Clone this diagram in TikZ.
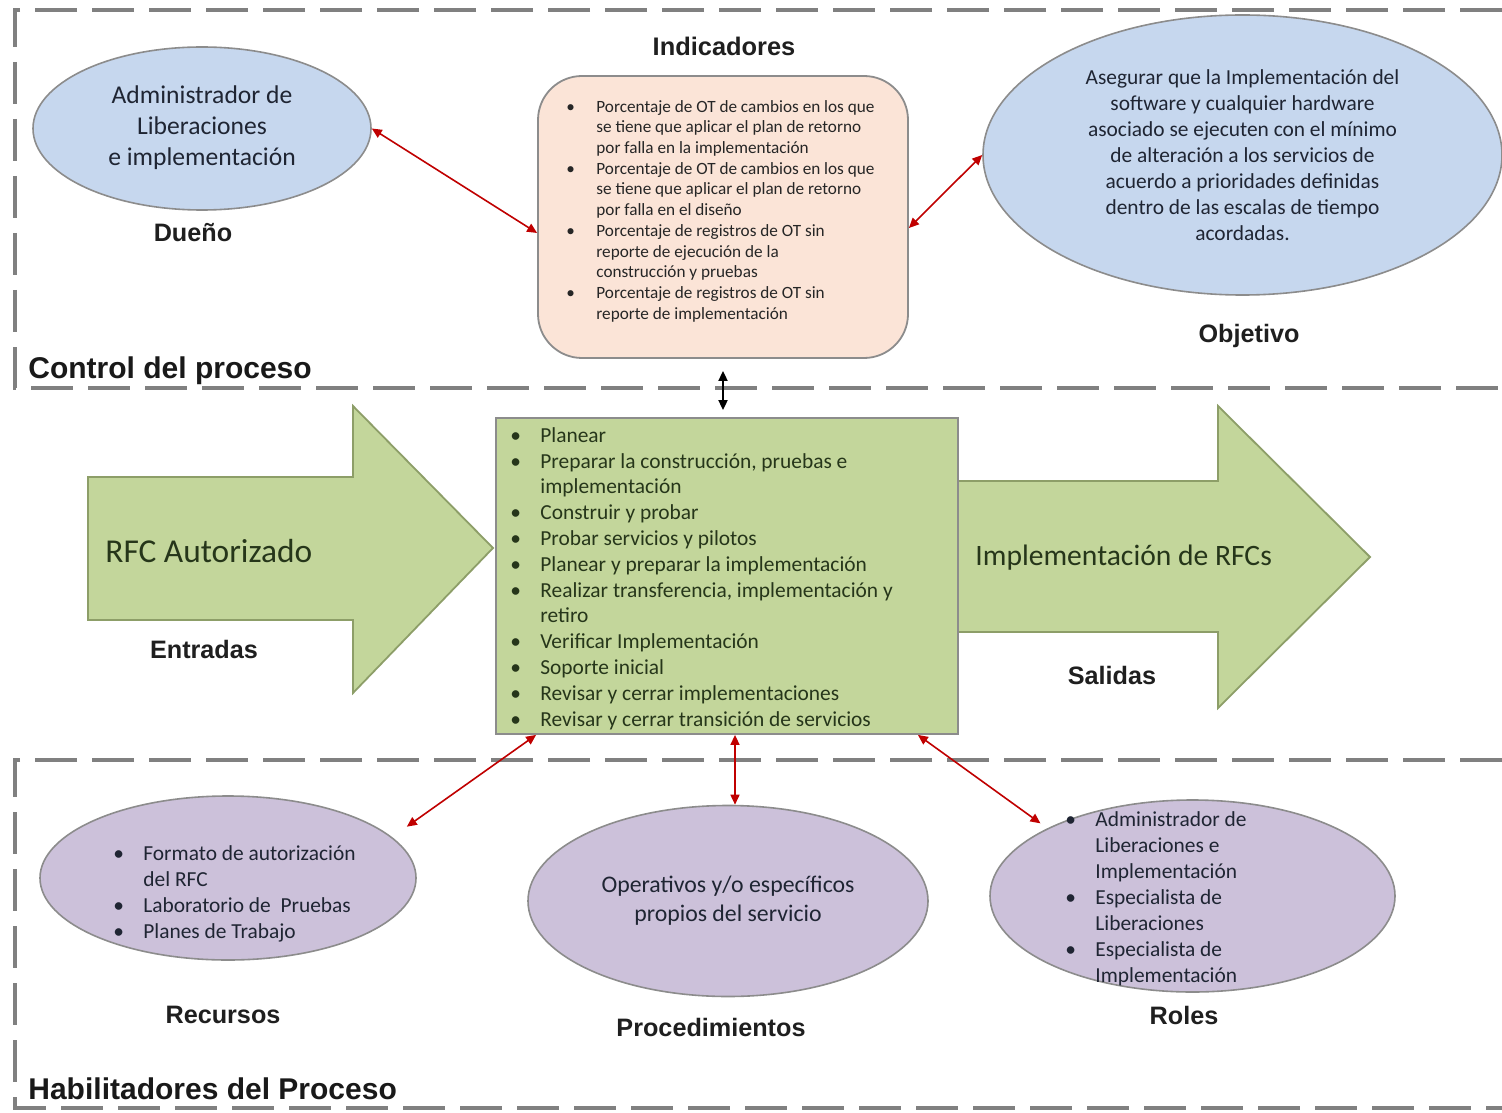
\documentclass[tikz,border=0pt]{standalone}
\usepackage{fontspec}
\setmainfont{Carlito}
\newfontfamily\labfont{Liberation Sans}
\usetikzlibrary{arrows.meta,shapes.geometric}
\definecolor{dashgray}{HTML}{808080}
\definecolor{boxgreen}{HTML}{C3D69B}
\definecolor{greenedge}{HTML}{8D9E68}
\definecolor{peach}{HTML}{FBE4D7}
\definecolor{lblue}{HTML}{C6D7EE}
\definecolor{lpurple}{HTML}{CCC1DA}
\definecolor{edgegray}{HTML}{8C8C8C}
\definecolor{darkred}{HTML}{C00000}
\definecolor{txtdark}{HTML}{1F2533}
\definecolor{txtgreen}{HTML}{26361A}
\newcommand\bl{\makebox[15pt][l]{\textbullet}}
\newcommand\contl{\hspace*{15pt}}
\begin{document}
\begin{tikzpicture}[x=0.5pt,y=-0.5pt,
  frame/.style={draw=dashgray, line width=2pt, dash pattern=on 21pt off 7.5pt},
  lbl/.style={font={\labfont\bfseries\fontsize{12.6}{15}\selectfont}, text=black!88, inner sep=0},
  sect/.style={font={\labfont\bfseries\fontsize{15}{18}\selectfont}, text=black!90, inner sep=0, anchor=west},
  oval/.style={ellipse, draw=edgegray, line width=0.8pt, inner sep=0, align=center, text=txtdark},
  listtxt/.style={inner sep=0, anchor=west, align=left},
  bigarrow/.style={fill=boxgreen, draw=greenedge, line width=0.9pt, line join=miter},
  rar/.style={{Triangle[length=5pt,width=4.5pt]}-{Triangle[length=5pt,width=4.5pt]}, draw=darkred, line width=0.8pt},
  bar/.style={{Triangle[length=5pt,width=4.5pt]}-{Triangle[length=5pt,width=4.5pt]}, draw=black, line width=0.9pt}]
\useasboundingbox (0,0) rectangle (1502,1112);
\fill[white] (0,0) rectangle (1502,1112);

% section frames
\draw[frame] (1502,10) -- (15,10) -- (15,388) -- (1502,388);
\draw[frame] (1502,760) -- (15,760) -- (15,1108) -- (1502,1108);

% section titles
\node[sect] (tctl) at (28,371) {Control del proceso};
\node[sect] (thab) at (28,1089) {Habilitadores del Proceso};

% big arrows
\path[bigarrow] (88,477) -- (353,477) -- (353,406) -- (493,548) -- (353,693) -- (353,620) -- (88,620) -- cycle;
\path[bigarrow] (958,481) -- (1218,481) -- (1218,406) -- (1370,557) -- (1218,708) -- (1218,632) -- (958,632) -- cycle;
\node[inner sep=0, anchor=west, text=txtgreen, font=\fontsize{16.7}{20}\selectfont] (rfc) at (105,551) {RFC Autorizado};
\node[inner sep=0, anchor=west, text=txtgreen, font=\fontsize{14.8}{18}\selectfont] (impl) at (975,558) {Implementación de RFCs};
\node[lbl] (lent) at (204,649) {Entradas};
\node[lbl] (lsal) at (1112,675) {Salidas};

% central process box
\node[draw=edgegray, fill=boxgreen, line width=0.9pt, minimum width=231pt, minimum height=158pt, inner sep=0] (proc) at (727,576) {};
\node[listtxt, text=txtgreen, font=\fontsize{10.7}{12.9}\selectfont] (proctxt) at (510,579) {%
\begin{tabular}{@{}l@{}}
\bl Planear\\
\bl Preparar la construcción, pruebas e\\
\contl implementación\\
\bl Construir y probar\\
\bl Probar servicios y pilotos\\
\bl Planear y preparar la implementación\\
\bl Realizar transferencia, implementación y\\
\contl retiro\\
\bl Verificar Implementación\\
\bl Soporte inicial\\
\bl Revisar y cerrar implementaciones\\
\bl Revisar y cerrar transición de servicios
\end{tabular}};

% indicators
\node[lbl, font={\labfont\bfseries\fontsize{12.7}{15}\selectfont}] (lind) at (724,46) {Indicadores};
\node[draw=edgegray, fill=peach, line width=0.9pt, rounded corners=22pt, minimum width=185pt, minimum height=141pt, inner sep=0] (ind) at (723,217) {};
\node[listtxt, text=black!85, font=\fontsize{8.6}{10.35}\selectfont] (indtxt) at (566,211.5) {%
\begin{tabular}{@{}l@{}}
\bl Porcentaje de OT de cambios en los que\\
\contl se tiene que aplicar el plan de retorno\\
\contl por falla en la implementación\\
\bl Porcentaje de OT de cambios en los que\\
\contl se tiene que aplicar el plan de retorno\\
\contl por falla en el diseño\\
\bl Porcentaje de registros de OT sin\\
\contl reporte de ejecución de la\\
\contl construcción y pruebas\\
\bl Porcentaje de registros de OT sin\\
\contl reporte de implementación
\end{tabular}};

% owner
\node[oval, fill=lblue, minimum width=169pt, minimum height=81.5pt, font=\fontsize{12.8}{15.5}\selectfont] (due) at (202,128.5) {\raisebox{-1.5pt}{\begin{tabular}{@{}c@{}}Administrador de\\Liberaciones\\e implementación\end{tabular}}};
\node[lbl] (ldue) at (193,233) {Dueño};

% objective
\node[oval, fill=lblue, minimum width=259.5pt, minimum height=140pt, font=\fontsize{10.7}{13}\selectfont] (obj) at (1242.5,155) {Asegurar que la Implementación del\\software y cualquier hardware\\asociado se ejecuten con el mínimo\\de alteración a los servicios de\\acuerdo a prioridades definidas\\dentro de las escalas de tiempo\\acordadas.};
\node[lbl] (lobj) at (1249,336) {Objetivo};

% enablers
\node[oval, fill=lpurple, minimum width=188pt, minimum height=82pt] (rec) at (228,878) {};
\node[listtxt, text=txtdark, font=\fontsize{10.7}{13}\selectfont] (rectxt) at (113,894) {%
\begin{tabular}{@{}l@{}}
\bl Formato de autorización\\
\contl del RFC\\
\bl Laboratorio de\ \ Pruebas\\
\bl Planes de Trabajo
\end{tabular}};
\node[lbl] (lrec) at (223,1015) {Recursos};

\node[oval, fill=lpurple, minimum width=200pt, minimum height=95.5pt, font=\fontsize{11.9}{14.5}\selectfont] (pro) at (728,901) {Operativos y/o específicos\\propios del servicio};
\node[lbl] (lpro) at (711,1027) {Procedimientos};

\node[oval, fill=lpurple, minimum width=202.5pt, minimum height=96pt] (rol) at (1192.5,896) {};
\node[listtxt, text=txtdark, font=\fontsize{10.7}{13}\selectfont] (roltxt) at (1065,899) {%
\begin{tabular}{@{}l@{}}
\bl Administrador de\\
\contl Liberaciones e\\
\contl Implementación\\
\bl Especialista de\\
\contl Liberaciones\\
\bl Especialista de\\
\contl Implementación
\end{tabular}};
\node[lbl] (lrol) at (1184,1015) {Roles};

% connectors
\draw[rar] (due.east) -- ([yshift=-8pt]ind.west);
\draw[rar] ([yshift=-5.5pt]ind.east) -- (obj.west);
\draw[bar, shorten <=6pt, shorten >=3.5pt] (ind.south) -- (ind.south |- proc.north);
\draw[rar, shorten >=9pt] ([xshift=20.5pt]proc.south west) -- (rec.14);
\draw[rar] ([xshift=4pt]proc.south) -- ([xshift=3.5pt]pro.north);
\draw[rar, shorten >=4.2pt] ([xshift=-20.5pt]proc.south east) -- (rol.155);
\end{tikzpicture}
\end{document}
